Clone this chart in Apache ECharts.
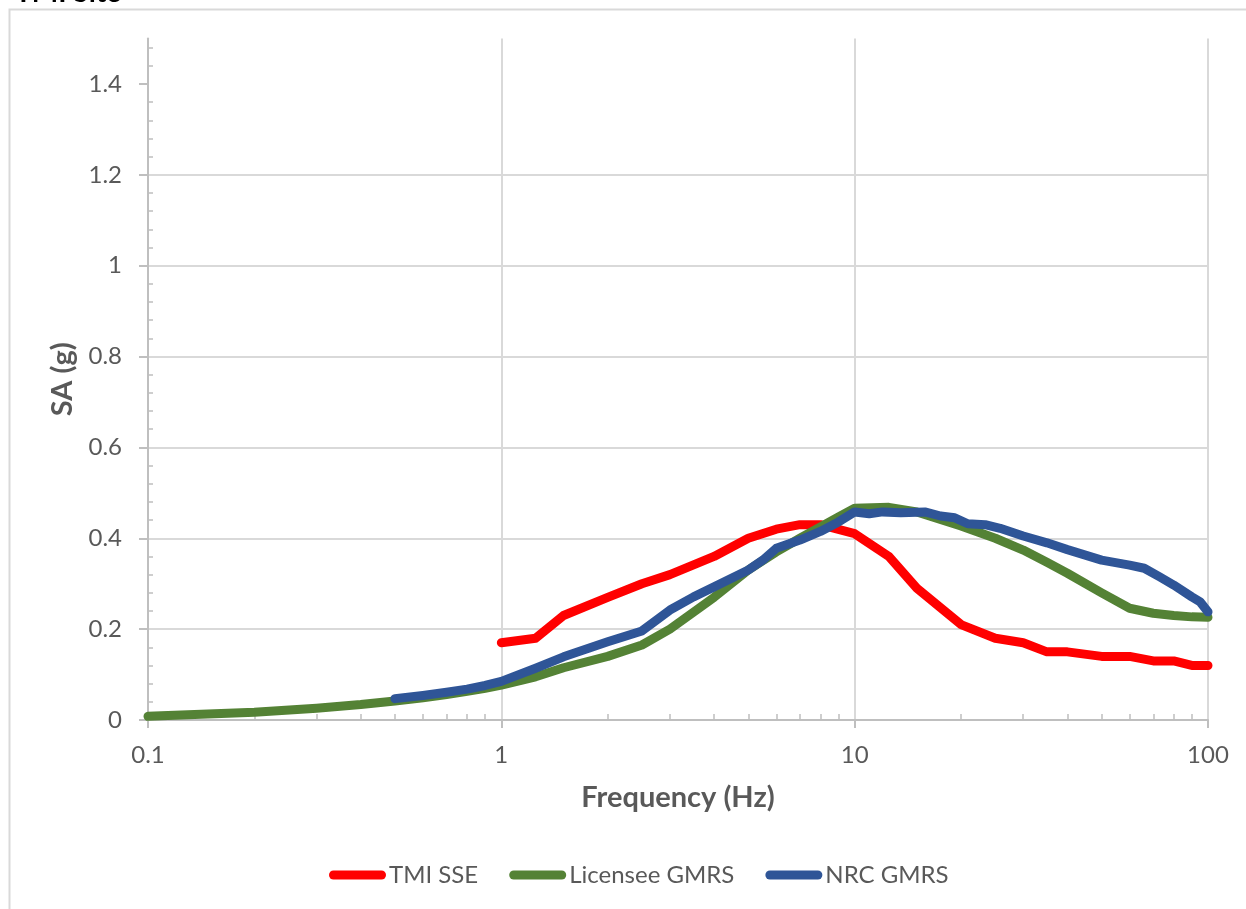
<!DOCTYPE html>
<html>
<head>
<meta charset="utf-8">
<script src="https://cdn.jsdelivr.net/npm/echarts@6/dist/echarts.min.js"></script>
<style>html,body{margin:0;padding:0;background:#fff;}#c{width:1246px;height:909px;}</style>
</head>
<body>
<div id="c"></div>
<script>
// ---- data ----
const tmiFreq = [1, 1.25, 1.5, 2, 2.5, 3, 4, 5, 6, 7, 8, 10, 12.5, 15, 20, 25, 30, 35, 40, 50, 60, 70, 80, 90, 100];
const tmiSA   = [0.17, 0.18, 0.23, 0.27, 0.30, 0.32, 0.36, 0.40, 0.42, 0.43, 0.43, 0.41, 0.36, 0.29, 0.21, 0.18, 0.17, 0.15, 0.15, 0.14, 0.14, 0.13, 0.13, 0.12, 0.12];

const licFreq = [0.1, 0.2, 0.3, 0.4, 0.5, 0.6, 0.7, 0.8, 0.9, 1, 1.25, 1.5, 2, 2.5, 3, 4, 5, 6, 7, 8, 9, 10, 12.5, 15, 20, 25, 30, 35, 40, 50, 60, 70, 80, 90, 100];
const licSA   = [0.008, 0.017, 0.026, 0.034, 0.042, 0.049, 0.056, 0.063, 0.070, 0.077, 0.095, 0.115, 0.140, 0.165, 0.200, 0.270, 0.330, 0.370, 0.400, 0.425, 0.447, 0.466, 0.468, 0.458, 0.427, 0.400, 0.374, 0.347, 0.323, 0.280, 0.246, 0.235, 0.230, 0.227, 0.226];

const nrcFreq = [0.5, 0.6, 0.7, 0.8, 0.9, 1, 1.25, 1.5, 2, 2.5, 3, 3.5, 4, 5, 5.5, 6, 7, 8, 9, 10, 11, 12, 13.5, 15.8, 17.5, 19.2, 20.9, 23.4, 25.8, 30, 35, 40, 50, 60, 66, 73, 80, 90, 95, 100];
const nrcSA   = [0.047, 0.054, 0.061, 0.068, 0.076, 0.085, 0.114, 0.139, 0.172, 0.196, 0.242, 0.271, 0.293, 0.330, 0.352, 0.378, 0.396, 0.415, 0.436, 0.458, 0.454, 0.458, 0.456, 0.458, 0.449, 0.445, 0.432, 0.430, 0.422, 0.405, 0.390, 0.375, 0.352, 0.341, 0.334, 0.315, 0.297, 0.271, 0.260, 0.238];

const yMajor = [0, 0.2, 0.4, 0.6, 0.8, 1, 1.2, 1.4];
const yMinor = [0.04,0.08,0.12,0.16,0.24,0.28,0.32,0.36,0.44,0.48,0.52,0.56,0.64,0.68,0.72,0.76,0.84,0.88,0.92,0.96,1.04,1.08,1.12,1.16,1.24,1.28,1.32,1.36,1.44,1.48];
const xMinor = [0.2,0.3,0.4,0.5,0.6,0.7,0.8,0.9,2,3,4,5,6,7,8,9,20,30,40,50,60,70,80,90];

const pair = (xs, ys) => xs.map((x, i) => [x, ys[i]]);

const FONT = 'Lato, "Open Sans", sans-serif';
const LBL = '#595959';
const capsule = 'path://M4.5,0H52.5A4.5,4.5,0,0,1,52.5,9H4.5A4.5,4.5,0,0,1,4.5,0Z';

const chart = echarts.init(document.getElementById('c'), null, {renderer: 'canvas'});
chart.setOption({
  animation: false,
  backgroundColor: '#fff',
  textStyle: {fontFamily: FONT},
  title: {
    text: 'TMI Site', left: 10, top: -26,
    textStyle: {fontFamily: FONT, fontSize: 28, fontWeight: 'bold', color: '#000'}
  },
  graphic: [{
    type: 'rect', silent: true, z: -10,
    shape: {x: 9.5, y: 9.5, width: 1300, height: 1000},
    style: {fill: 'none', stroke: '#d9d9d9', lineWidth: 2}
  }],
  grid: {left: 148, right: 38, top: 38.5, bottom: 189, containLabel: false},
  legend: {
    left: 324, top: 858,
    itemWidth: 57, itemHeight: 9, itemGap: 31,
    textStyle: {fontFamily: FONT, fontSize: 24, color: LBL, padding: [0, 0, 0, -2]},
    data: [
      {name: 'TMI SSE', icon: capsule},
      {name: 'Licensee GMRS', icon: capsule},
      {name: 'NRC GMRS', icon: capsule}
    ]
  },
  xAxis: [{
    type: 'log', logBase: 10, min: 0.1, max: 100,
    name: 'Frequency (Hz)', nameLocation: 'middle', nameGap: 63,
    nameTextStyle: {fontFamily: FONT, fontSize: 29, fontWeight: 'bold', color: LBL},
    axisLine: {show: true, onZero: false, lineStyle: {color: '#bfbfbf', width: 2}},
    axisTick: {show: true, length: 8, lineStyle: {color: '#bfbfbf', width: 2}},
    axisLabel: {fontFamily: FONT, fontSize: 24, color: LBL, margin: 23,
      formatter: v => String(+v.toPrecision(3))},
    splitLine: {show: true, lineStyle: {color: '#d9d9d9', width: 2}},
    minorTick: {show: false}
  }, {
    type: 'log', logBase: 10, min: 0.1, max: 100, position: 'bottom', gridIndex: 0,
    axisLine: {show: false},
    axisLabel: {show: false},
    splitLine: {show: false},
    axisTick: {show: true, inside: true, length: 6, customValues: xMinor,
      lineStyle: {color: '#bfbfbf', width: 1.5}}
  }],
  yAxis: [{
    type: 'value', min: 0, max: 1.5, interval: 0.2,
    name: 'SA (g)', nameLocation: 'middle', nameGap: 70, nameRotate: 90,
    nameTextStyle: {fontFamily: FONT, fontSize: 29, fontWeight: 'bold', color: LBL},
    axisLine: {show: true, lineStyle: {color: '#bfbfbf', width: 2}},
    axisTick: {show: true, length: 9, customValues: yMajor, lineStyle: {color: '#bfbfbf', width: 2}},
    axisLabel: {fontFamily: FONT, fontSize: 24, color: LBL, margin: 26, customValues: yMajor,
      formatter: v => String(+v.toFixed(2))},
    splitLine: {show: true, showMaxLine: false, lineStyle: {color: '#d9d9d9', width: 2}}
  }, {
    type: 'value', min: 0, max: 1.5, position: 'left', gridIndex: 0,
    axisLine: {show: false},
    axisLabel: {show: false},
    splitLine: {show: false},
    axisTick: {show: true, inside: true, length: 5, customValues: yMinor,
      lineStyle: {color: '#bfbfbf', width: 1.5}}
  }],
  series: [{
    name: 'TMI SSE', type: 'line', data: pair(tmiFreq, tmiSA),
    showSymbol: false, symbol: 'none', color: '#ff0000',
    lineStyle: {width: 9, color: '#ff0000', cap: 'round', join: 'round'}, z: 3
  }, {
    name: 'Licensee GMRS', type: 'line', data: pair(licFreq, licSA),
    showSymbol: false, symbol: 'none', color: '#548235',
    lineStyle: {width: 9, color: '#548235', cap: 'round', join: 'round'}, z: 4
  }, {
    name: 'NRC GMRS', type: 'line', data: pair(nrcFreq, nrcSA),
    showSymbol: false, symbol: 'none', color: '#2f5597',
    lineStyle: {width: 9, color: '#2f5597', cap: 'round', join: 'round'}, z: 5
  }]
});
</script>
</body>
</html>
